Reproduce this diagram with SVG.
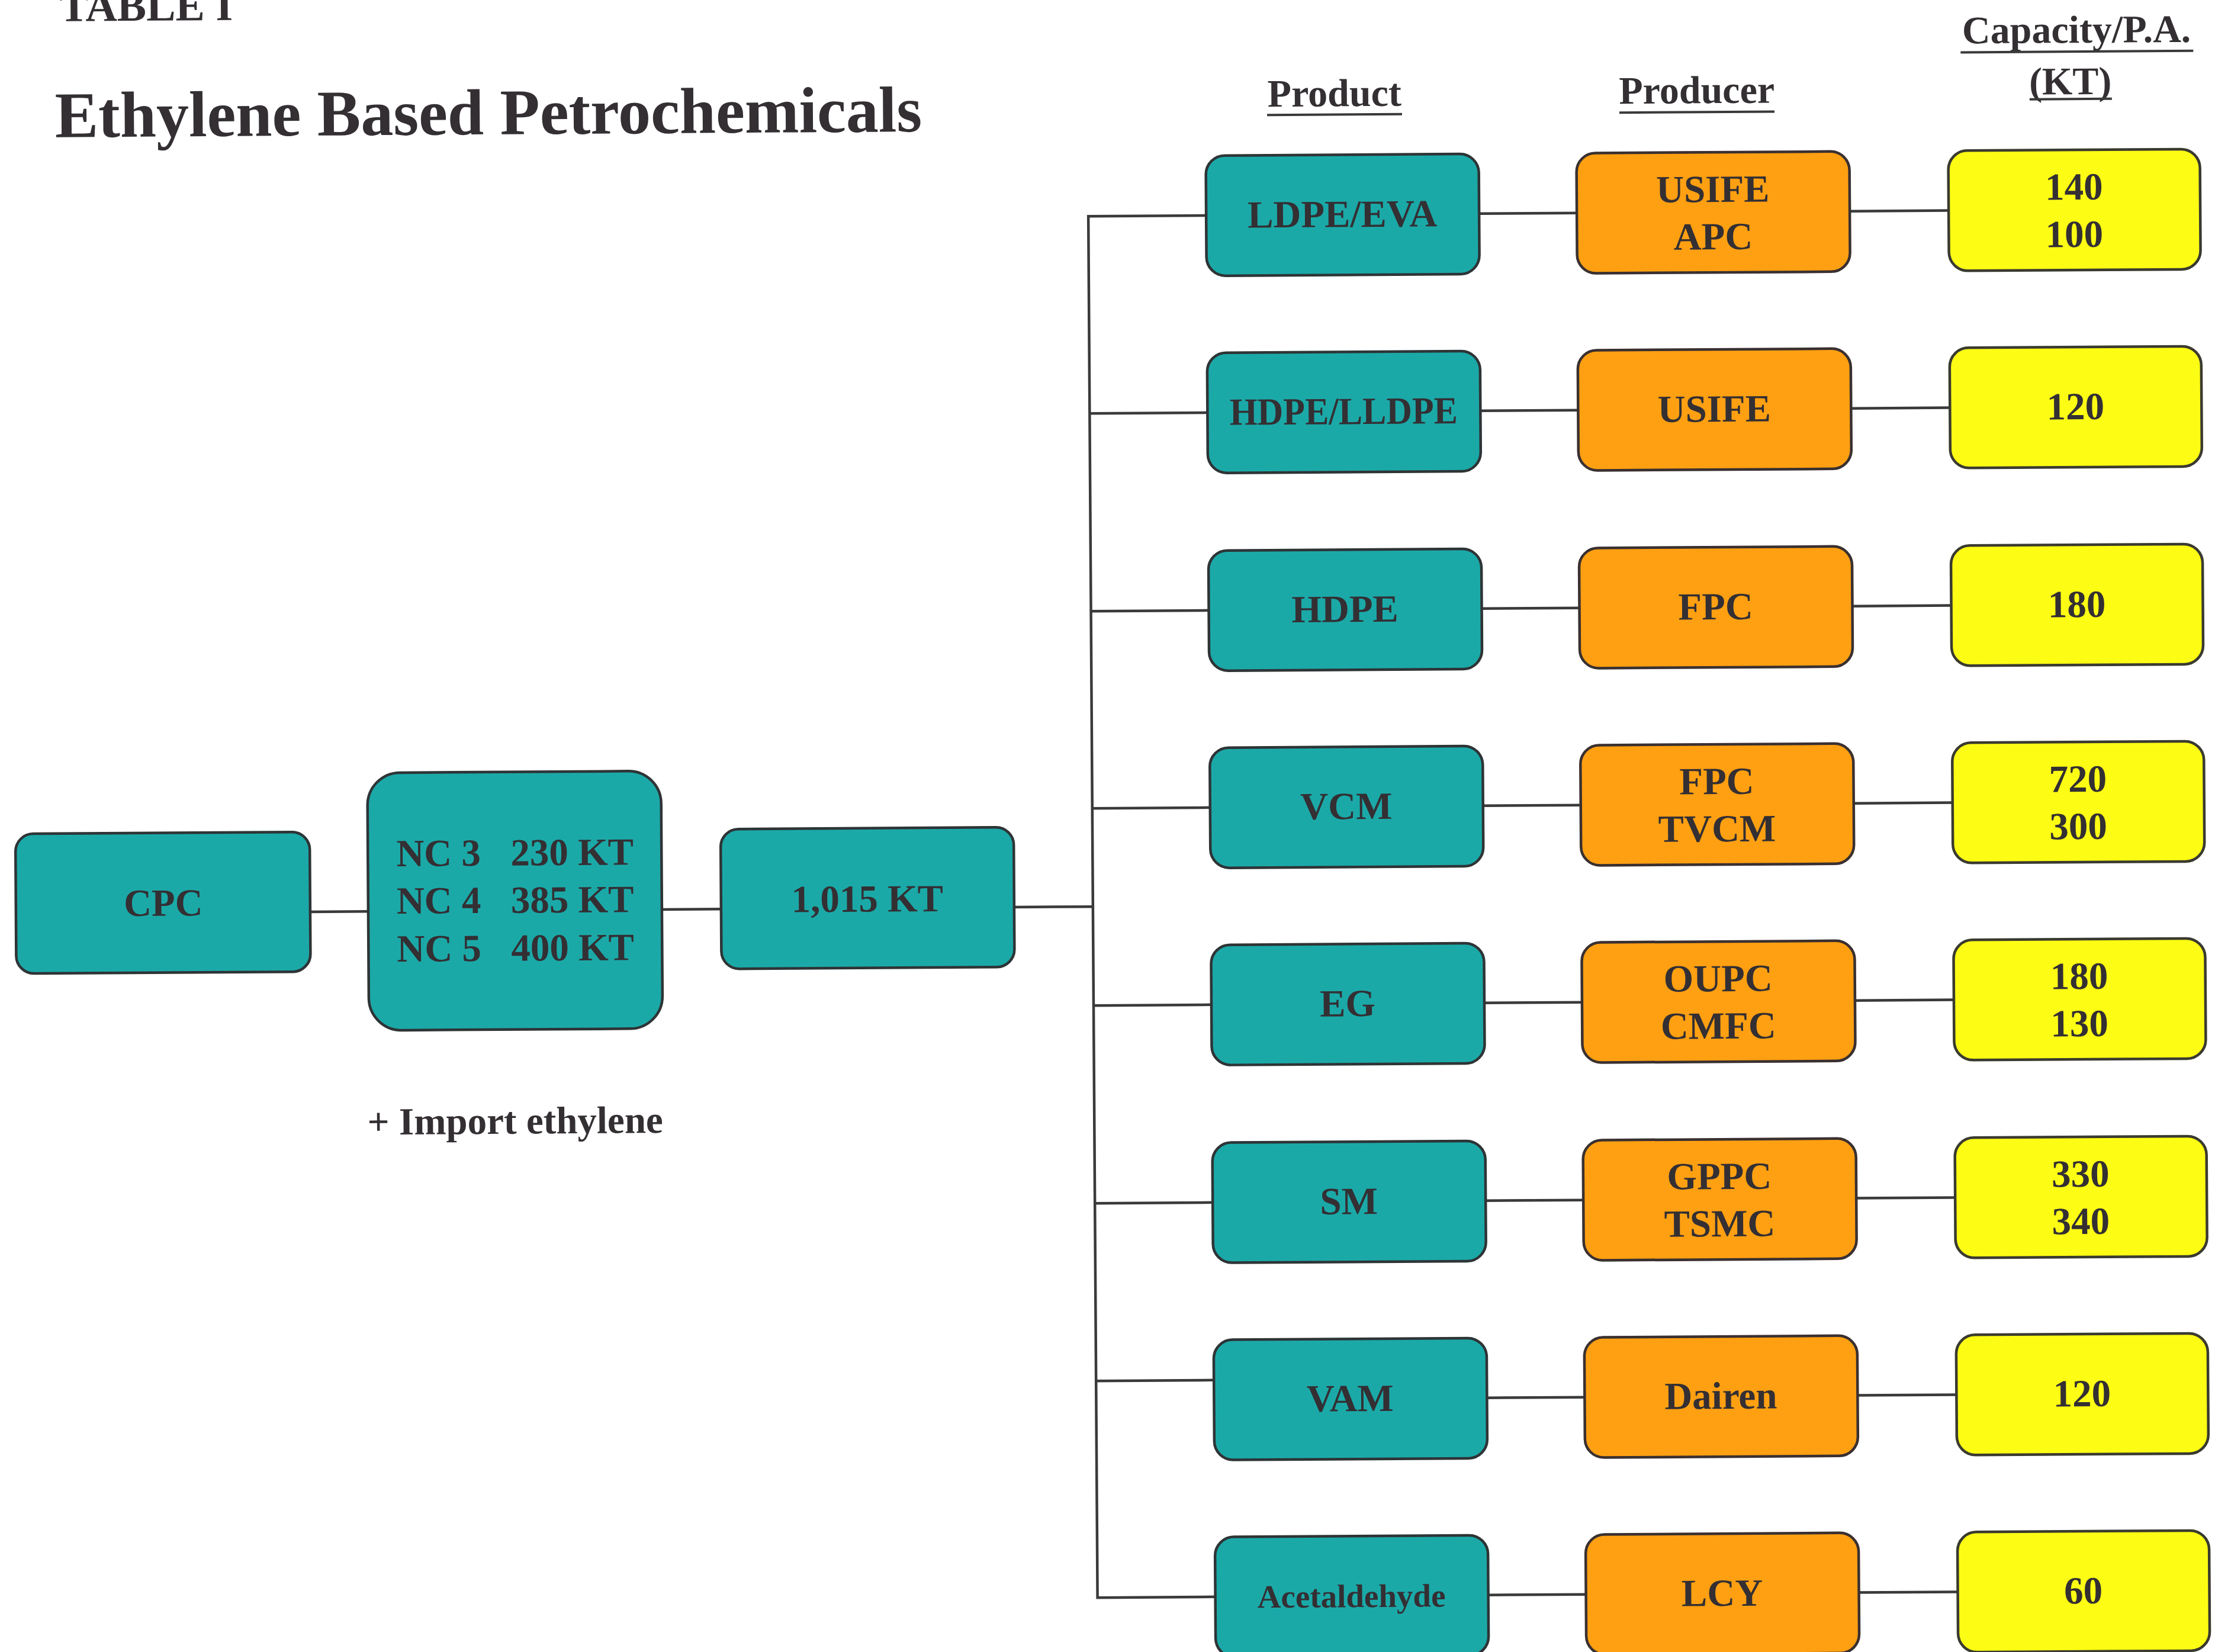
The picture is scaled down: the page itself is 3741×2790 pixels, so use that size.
<svg xmlns="http://www.w3.org/2000/svg" width="3741" height="2790" viewBox="0 0 3741 2790">
<style>
text{font-family:"Liberation Serif","Times New Roman",serif;font-weight:bold;fill:#332f33}
.b{font-size:65px;text-anchor:middle}
.h{font-size:66px;text-anchor:middle}
.t{fill:#1ba9a8;stroke:#2e3436;stroke-width:4.5}
.o{fill:#ffa012;stroke:#3a3030;stroke-width:4.5}
.y{fill:#fdfc14;stroke:#3a3a30;stroke-width:4.5}
.c{stroke:#3a3a3a;stroke-width:4.5;fill:none}
.u{stroke:#3a3a3a;stroke-width:4}
</style>
<rect width="3741" height="2790" fill="#ffffff"/>
<g transform="rotate(-0.38 1870 1400)">
<g id="header">
<text x="256" y="24" style="font-size:74px;text-anchor:middle">TABLE I</text>
<text x="833" y="220" style="font-size:110px;text-anchor:middle">Ethylene Based Petrochemicals</text>
<text class="h" x="2262" y="182">Product</text>
<line class="u" x1="2148" y1="196" x2="2376" y2="196"/>
<text class="h" x="2874" y="181">Producer</text>
<line class="u" x1="2743" y1="196" x2="3005" y2="196"/>
<text class="h" x="3516" y="83">Capacity/P.A.</text>
<line class="u" x1="3320" y1="98" x2="3713" y2="98"/>
<text class="h" x="3505" y="170">(KT)</text>
<line class="u" x1="3436" y1="178" x2="3575" y2="178"/>
</g>
<g id="connectors">
<path class="c" d="M523 1531H621M1117 1531H1217M1712 1531H1845"/>
<path class="c" d="M2044 365H1845V2698H2044"/>
<path class="c" d="M1845 698H2044M1845 1032H2044M1845 1365H2044M1845 1698H2044M1845 2032H2044M1845 2332H2044"/>
<path class="c" d="M2505 365H2670M2505 698H2670M2505 1032H2670M2505 1365H2670M2505 1698H2670M2505 2032H2670M2505 2365H2670M2505 2698H2670"/>
<path class="c" d="M3131 365H3298M3131 698H3298M3131 1032H3298M3131 1365H3298M3131 1698H3298M3131 2032H3298M3131 2365H3298M3131 2698H3298"/>
</g>
<g id="cpc">
<rect class="t" x="26" y="1396" width="497" height="236" rx="30"/>
<text class="b" x="275" y="1536">CPC</text>
</g>
<g id="naphtha-crackers">
<rect class="t" x="621" y="1297" width="496" height="435" rx="55"/>
<text style="font-size:65px"><tspan x="669" y="1455">NC 3</tspan><tspan x="862" y="1455">230 KT</tspan></text>
<text style="font-size:65px"><tspan x="669" y="1535">NC 4</tspan><tspan x="862" y="1535">385 KT</tspan></text>
<text style="font-size:65px"><tspan x="669" y="1616">NC 5</tspan><tspan x="862" y="1616">400 KT</tspan></text>
</g>
<g id="import-note">
<text class="b" x="867" y="1908">+ Import ethylene</text>
</g>
<g id="total">
<rect class="t" x="1217" y="1396" width="495" height="236" rx="30"/>
<text class="b" x="1464" y="1537">1,015 KT</text>
</g>
<g id="row-ldpe">
<rect class="t" x="2044" y="264" width="461" height="203" rx="32"/>
<text class="b" x="2274" y="386">LDPE/EVA</text>
<rect class="o" x="2670" y="264" width="461" height="203" rx="32"/>
<text class="b" x="2900" y="348">USIFE</text>
<text class="b" x="2900" y="428">APC</text>
<rect class="y" x="3298" y="264" width="425" height="203" rx="32"/>
<text class="b" x="3510" y="348">140</text>
<text class="b" x="3510" y="428">100</text>
</g>
<g id="row-hdpe-lldpe">
<rect class="t" x="2044" y="597" width="461" height="203" rx="32"/>
<text class="b" x="2274" y="719" textLength="385" lengthAdjust="spacingAndGlyphs">HDPE/LLDPE</text>
<rect class="o" x="2670" y="597" width="461" height="203" rx="32"/>
<text class="b" x="2900" y="719">USIFE</text>
<rect class="y" x="3298" y="597" width="425" height="203" rx="32"/>
<text class="b" x="3510" y="719">120</text>
</g>
<g id="row-hdpe">
<rect class="t" x="2044" y="931" width="461" height="203" rx="32"/>
<text class="b" x="2274" y="1053">HDPE</text>
<rect class="o" x="2670" y="931" width="461" height="203" rx="32"/>
<text class="b" x="2900" y="1053">FPC</text>
<rect class="y" x="3298" y="931" width="425" height="203" rx="32"/>
<text class="b" x="3510" y="1053">180</text>
</g>
<g id="row-vcm">
<rect class="t" x="2044" y="1264" width="461" height="203" rx="32"/>
<text class="b" x="2274" y="1386">VCM</text>
<rect class="o" x="2670" y="1264" width="461" height="203" rx="32"/>
<text class="b" x="2900" y="1348">FPC</text>
<text class="b" x="2900" y="1428">TVCM</text>
<rect class="y" x="3298" y="1264" width="425" height="203" rx="32"/>
<text class="b" x="3510" y="1348">720</text>
<text class="b" x="3510" y="1428">300</text>
</g>
<g id="row-eg">
<rect class="t" x="2044" y="1597" width="461" height="203" rx="32"/>
<text class="b" x="2274" y="1719">EG</text>
<rect class="o" x="2670" y="1597" width="461" height="203" rx="32"/>
<text class="b" x="2900" y="1681">OUPC</text>
<text class="b" x="2900" y="1761">CMFC</text>
<rect class="y" x="3298" y="1597" width="425" height="203" rx="32"/>
<text class="b" x="3510" y="1681">180</text>
<text class="b" x="3510" y="1761">130</text>
</g>
<g id="row-sm">
<rect class="t" x="2044" y="1931" width="461" height="203" rx="32"/>
<text class="b" x="2274" y="2053">SM</text>
<rect class="o" x="2670" y="1931" width="461" height="203" rx="32"/>
<text class="b" x="2900" y="2015">GPPC</text>
<text class="b" x="2900" y="2095">TSMC</text>
<rect class="y" x="3298" y="1931" width="425" height="203" rx="32"/>
<text class="b" x="3510" y="2015">330</text>
<text class="b" x="3510" y="2095">340</text>
</g>
<g id="row-vam">
<rect class="t" x="2044" y="2264" width="461" height="203" rx="32"/>
<text class="b" x="2274" y="2386">VAM</text>
<rect class="o" x="2670" y="2264" width="461" height="203" rx="32"/>
<text class="b" x="2900" y="2386">Dairen</text>
<rect class="y" x="3298" y="2264" width="425" height="203" rx="32"/>
<text class="b" x="3510" y="2386">120</text>
</g>
<g id="row-acetaldehyde">
<rect class="t" x="2044" y="2597" width="461" height="203" rx="32"/>
<text x="2274" y="2717" style="font-size:55px;text-anchor:middle">Acetaldehyde</text>
<rect class="o" x="2670" y="2597" width="461" height="203" rx="32"/>
<text class="b" x="2900" y="2719">LCY</text>
<rect class="y" x="3298" y="2597" width="425" height="203" rx="32"/>
<text class="b" x="3510" y="2719">60</text>
</g>
</g>
</svg>
